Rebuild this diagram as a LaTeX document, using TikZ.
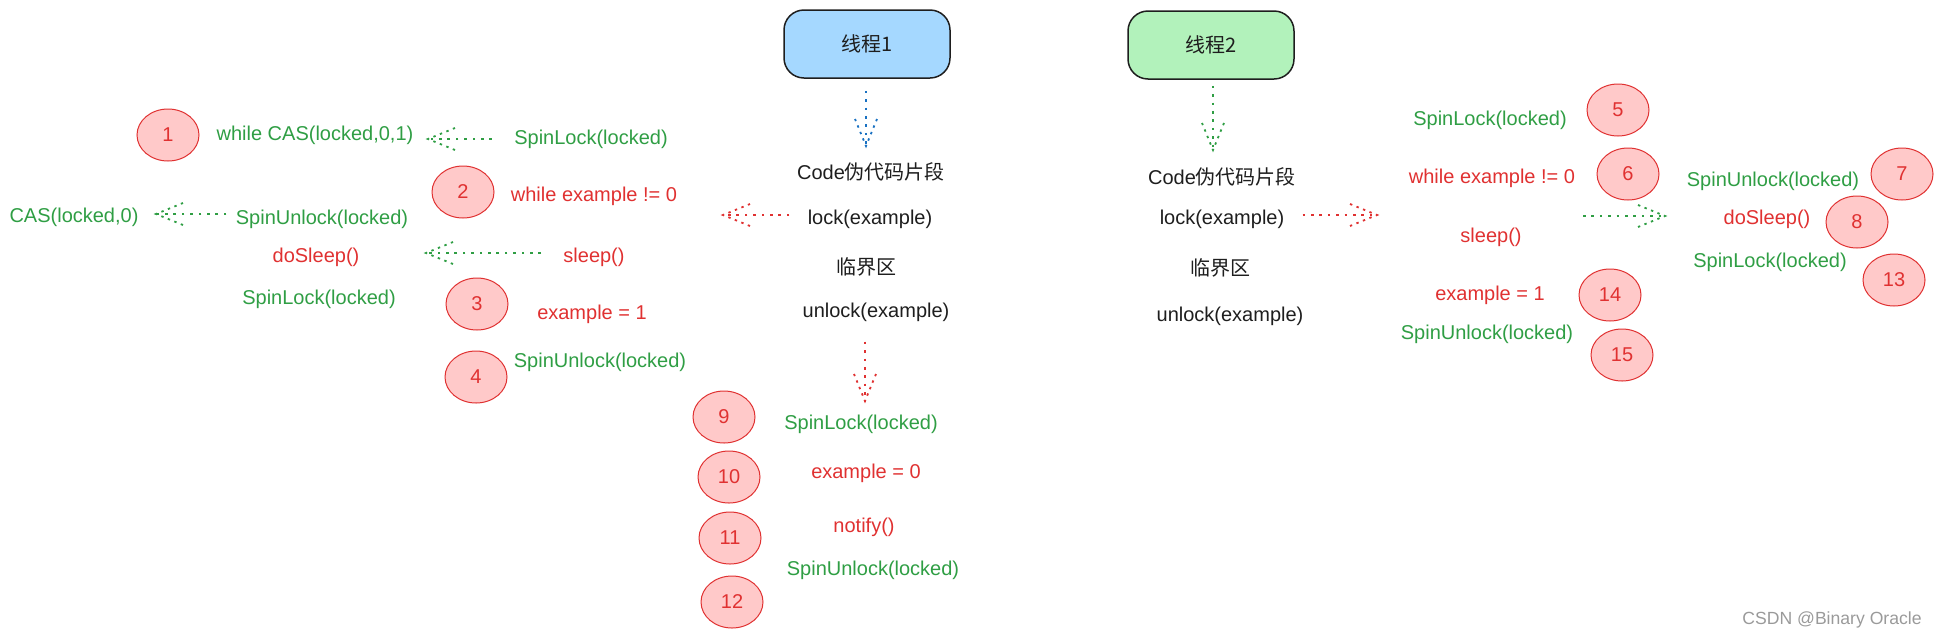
\documentclass[tikz,border=0pt]{standalone}
\usepackage{fontspec}
\setmainfont{Liberation Sans}
\newfontfamily\cjk{Noto Sans CJK SC}
\usetikzlibrary{shapes.geometric,decorations.markings}
\definecolor{cgreen}{HTML}{2F9E44}
\definecolor{cred}{HTML}{E03131}
\definecolor{cblack}{HTML}{1E1E1E}
\definecolor{cblue}{HTML}{1971C2}
\definecolor{cpink}{HTML}{FFC9C9}
\definecolor{bblue}{HTML}{A5D8FF}
\definecolor{bgreen}{HTML}{B2F2BB}
\definecolor{cgray}{HTML}{9A9A9A}
\tikzset{
  txt/.style={inner sep=0pt, font=\fontsize{10pt}{12pt}\selectfont},
  gtxt/.style={txt, text=cgreen},
  rtxt/.style={txt, text=cred},
  ktxt/.style={txt, text=cblack},
  num/.style={ellipse, draw=cred, fill=cpink, line width=0.5pt, minimum width=31pt,
    minimum height=26pt, inner sep=0pt, text=cred, font=\fontsize{10pt}{12pt}\selectfont},
  tbox/.style={rounded corners=10pt, draw=cblack, line width=0.75pt, minimum width=83pt,
    minimum height=34pt, text=cblack, font=\fontsize{10pt}{12pt}\selectfont},
  dotarrow/.style={draw=#1, line width=0.9pt, dash pattern=on 1.3pt off 2.9pt,
    postaction={decorate, decoration={markings, mark=at position 1 with {
      \draw[#1, line width=0.9pt, dash pattern=on 1.2pt off 2.3pt]
        (-13.5pt,5.5pt) -- (0pt,0pt) -- (-13.5pt,-5.5pt);
    }}}}
}
\begin{document}
\begin{tikzpicture}[x=0.5pt, y=-0.5pt]
\useasboundingbox (0,0) rectangle (1937,638);
% thread boxes
\node[tbox, fill=bblue] (box1) at (867,44) {\cjk 线程1};
\node[tbox, fill=bgreen] (box2) at (1211,45) {\cjk 线程2};
% thread 1 code
\node[ktxt] (c1) at (871,172) {Code\cjk 伪代码片段};
\node[ktxt] (l1) at (870,219) {lock(example)};
\node[ktxt] (k1) at (866,267) {\cjk 临界区};
\node[ktxt] (u1) at (876,312) {unlock(example)};
% thread 2 code
\node[ktxt] (c2) at (1222,177) {Code\cjk 伪代码片段};
\node[ktxt] (l2) at (1222,219) {lock(example)};
\node[ktxt] (k2) at (1220,268) {\cjk 临界区};
\node[ktxt] (u2) at (1230,316) {unlock(example)};
% left cluster
\node[num] (n1) at (168,135) {1};
\node[gtxt] (wcas) at (315,135) {while CAS(locked,0,1)};
\node[gtxt] (sl1) at (591,139) {SpinLock(locked)};
\node[num] (n2) at (463,192) {2};
\node[rtxt] (we1) at (594,196) {while example != 0};
\node[gtxt] (cas0) at (74,217) {CAS(locked,0)};
\node[gtxt] (su1) at (322,219) {SpinUnlock(locked)};
\node[rtxt] (ds1) at (316,257) {doSleep()};
\node[rtxt] (sp1) at (594,257) {sleep()};
\node[gtxt] (sl2) at (319,299) {SpinLock(locked)};
\node[num] (n3) at (477,304) {3};
\node[rtxt] (ex1) at (592,314) {example = 1};
\node[num] (n4) at (476,377) {4};
\node[gtxt] (su2) at (600,362) {SpinUnlock(locked)};
% bottom cluster
\node[num] (n9) at (724,417) {9};
\node[gtxt] (sl3) at (861,424) {SpinLock(locked)};
\node[num] (n10) at (729,477) {10};
\node[rtxt] (ex0) at (866,473) {example = 0};
\node[num] (n11) at (730,538) {11};
\node[rtxt] (nt) at (864,527) {notify()};
\node[gtxt] (su3) at (873,570) {SpinUnlock(locked)};
\node[num] (n12) at (732,602) {12};
% right cluster (thread 2)
\node[gtxt] (sl4) at (1490,120) {SpinLock(locked)};
\node[num] (n5) at (1618,110) {5};
\node[rtxt] (we2) at (1492,178) {while example != 0};
\node[num] (n6) at (1628,174) {6};
\node[rtxt] (sp2) at (1491,237) {sleep()};
\node[rtxt] (ex2) at (1490,295) {example = 1};
\node[num] (n14) at (1610,295) {14};
\node[gtxt] (su4) at (1487,334) {SpinUnlock(locked)};
\node[num] (n15) at (1622,355) {15};
\node[gtxt] (su5) at (1773,181) {SpinUnlock(locked)};
\node[num] (n7) at (1902,174) {7};
\node[rtxt] (ds2) at (1767,219) {doSleep()};
\node[num] (n8) at (1857,222) {8};
\node[gtxt] (sl5) at (1770,262) {SpinLock(locked)};
\node[num] (n13) at (1894,280) {13};
% watermark
\node[txt, text=cgray, font=\fontsize{8.8pt}{10pt}\selectfont] (wm) at (1832,620) {CSDN @Binary Oracle};
% arrow end coordinates
\coordinate (tA) at (866,146);
\coordinate (tB) at (1213,150);
\coordinate (tC) at (723,215);
\coordinate (tD) at (865,401);
\coordinate (tE) at (1377,215);
\coordinate (sF) at (1583,216);
\coordinate (tF) at (1665,216);
\coordinate (tG) at (428,139);
\coordinate (tH) at (156,214);
\coordinate (tI) at (426,253);
% arrows
\draw[dotarrow=cblue] ([yshift=-6pt]box1.south -| tA) -- (tA);
\draw[dotarrow=cgreen] ([yshift=-3pt]box2.south -| tB) -- (tB);
\draw[dotarrow=cred] ([xshift=-9pt]l1.west |- tC) -- (tC);
\draw[dotarrow=cred] ([yshift=-10pt]u1.south -| tD) -- (tD);
\draw[dotarrow=cred] ([xshift=9pt]l2.east |- tE) -- (tE);
\draw[dotarrow=cgreen] (sF) -- (tF);
\draw[dotarrow=cgreen] ([xshift=-11pt]sl1.west |- tG) -- (tG);
\draw[dotarrow=cgreen] ([xshift=-4.5pt]su1.west |- tH) -- (tH);
\draw[dotarrow=cgreen] ([xshift=-11pt]sp1.west |- tI) -- (tI);
\end{tikzpicture}
\end{document}
